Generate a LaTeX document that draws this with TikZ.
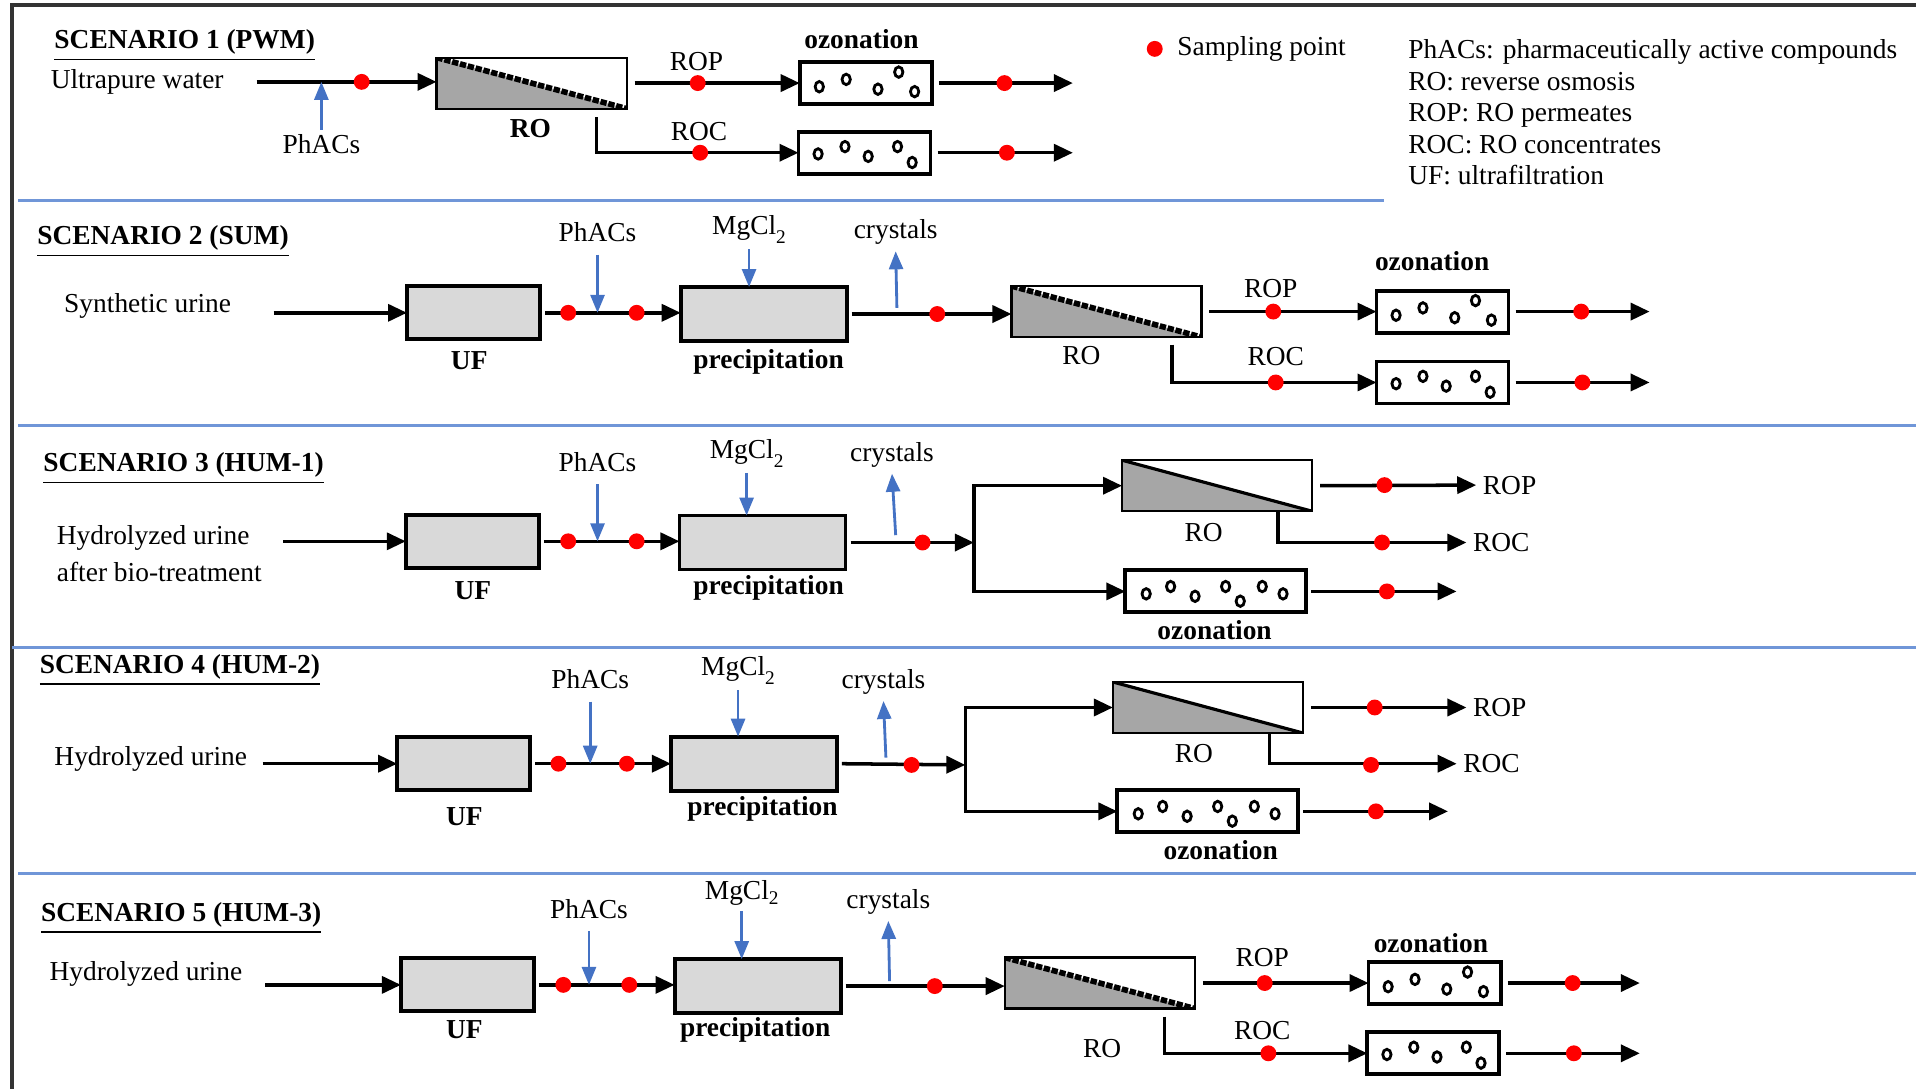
\documentclass[tikz,border=0pt]{standalone}
\usepackage{fontspec}
\setmainfont{Liberation Serif}
\usetikzlibrary{arrows.meta}

\definecolor{doseblue}{RGB}{68,114,196}
\definecolor{sepblue}{RGB}{112,150,216}
\definecolor{unitgray}{RGB}{217,217,217}
\definecolor{membgray}{RGB}{166,166,166}

\newcommand\figfont{\fontsize{7.8pt}{9pt}\selectfont}
\newcommand\mgcl{MgCl\raisebox{-0.7ex}{\fontsize{5.5pt}{6pt}\selectfont 2}}
\newcommand\mgclb{MgCl\raisebox{-0.35ex}{\fontsize{5.5pt}{6pt}\selectfont 2}}
\newcommand\ozbubbles[1]{\foreach \dx/\dy in {-38/3,-16/-3,10/5,27/-9,40/7}
  {\draw[bub] ([shift={(\dx,\dy)}]#1.center) ellipse [x radius=3.4, y radius=4.3];}}
\newcommand\ozbubblesb[1]{\foreach \dx/\dy in {-38/1,-16/-5,3/3,27/-5,39/8}
  {\draw[bub] ([shift={(\dx,\dy)}]#1.center) ellipse [x radius=3.4, y radius=4.3];}}
\newcommand\ozbubblesw[1]{\foreach \dx/\dy in {-57/2,-37/-4,-17/4,8/-4,20/8,38/-4,55/2}
  {\draw[bub] ([shift={(\dx,\dy)}]#1.center) ellipse [x radius=3.4, y radius=4.3];}}

\begin{document}
\begin{tikzpicture}[
      x=0.1222mm, y=-0.1222mm,
      txt/.style={inner sep=0, font=\figfont},
      bf/.style={txt, font=\figfont\bfseries},
      ttl/.style={bf, anchor=base west},
      unit/.style={draw, line width=1.1pt, fill=unitgray, minimum height=5.3mm, inner sep=0, outer sep=0},
      uf/.style={unit, minimum width=13.3mm},
      prec/.style={unit, minimum width=16.6mm, minimum height=5.4mm},
      ozbox/.style={draw, line width=1.1pt, fill=white, minimum width=13.2mm, minimum height=4.2mm, inner sep=0, outer sep=0},
      ozwide/.style={ozbox, minimum width=18.1mm},
      memb/.style={line width=1.6pt, dash pattern=on 1.8pt off 0.5pt},
      membs/.style={line width=0.9pt},
      robox/.style={draw, line width=0.6pt, minimum width=19mm, minimum height=5.1mm, inner sep=0, outer sep=0,
        path picture={
          \fill[membgray] (path picture bounding box.north west) -- (path picture bounding box.south east)
            -- (path picture bounding box.south west) -- cycle;
          \draw[#1] (path picture bounding box.north west) -- (path picture bounding box.south east);}},
      robox/.default=memb,
      flow/.style={line width=1pt, -{Triangle[length=1.9mm, width=1.7mm]}},
      dose/.style={doseblue, line width=0.8pt, -{Triangle[length=1.8mm, width=1.4mm]}},
      sample/.style={fill=red},
      bub/.style={line width=0.8pt},
      sep/.style={sepblue, line width=0.9pt},
    ]
    \useasboundingbox (0,0) rectangle (1568,891);
    \draw[line width=1pt, black!80] (10,891) -- (10,4) -- (1568,4);
    \draw[sep] (15,164) -- (1133,164);
    \draw[sep] (15,348) -- (1568,348);
    \draw[sep] (10,530) -- (1568,530);
    \draw[sep] (15,715) -- (1568,715);

    % scenario 1
    \node[ttl] (t1) at (44,40) {\underline{SCENARIO 1 (PWM)}};
    \node[txt, anchor=west] (w1) at (41,67) {Ultrapure water};
    \coordinate (in1) at (210,67);
    \node[robox] (ro1) at (435,68) {};
    \node[bf] (rl1) at (434,105) {RO};
    \node[txt] (ph1) at (263,118) {PhACs};
    \node[ozbox] (oz1a) at (708.5,68) {};
    \ozbubbles{oz1a}
    \node[ozbox] (oz1b) at (707.5,125) {};
    \ozbubblesb{oz1b}
    \node[bf] (ol1) at (705,32) {ozonation};
    \node[txt] (rp1) at (570,50) {ROP};
    \node[txt] (rc1) at (572,108) {ROC};
    \coordinate (c1) at (488,96);
    \coordinate (e1a) at (878,68);
    \coordinate (e1b) at (878,125);
    \draw[flow] (in1) -- (in1 -| ro1.west);
    \draw[dose] ([yshift=0.4mm]ph1.north) -- (ph1.north |- in1);
    \draw[flow] ([xshift=0.8mm]ro1.east) -- (oz1a.west);
    \draw[flow] (c1) |- (oz1b.west);
    \draw[flow] ([xshift=0.7mm]oz1a.east) -- (e1a);
    \draw[flow] ([xshift=0.7mm]oz1b.east) -- (e1b);
    \foreach \p in {(296,67),(571,68),(822,68),(573,125),(824,125)}
      \fill[sample] \p circle [radius=6.5];

    % legend
    \fill[sample] (945,40) circle [radius=6.5];
    \node[txt, anchor=west] (key) at (963,40) {Sampling point};
    \node[txt, anchor=west, align=left] (abbr) at (1152,92) {PhACs: pharmaceutically active compounds\\
      RO: reverse osmosis\\ROP: RO permeates\\ROC: RO concentrates\\UF: ultrafiltration};

    % scenario 2
    \node[ttl] (t2) at (30,200.5) {\underline{SCENARIO 2 (SUM)}};
    \node[txt, anchor=west] (w2) at (52,250) {Synthetic urine};
    \coordinate (in2) at (224,256);
    \node[uf] (uf2) at (387.5,256) {};
    \node[bf] (ul2) at (384,295) {UF};
    \node[prec] (pr2) at (625,257) {};
    \node[bf] (pl2) at (629,296) {precipitation};
    \node[robox] (ro2) at (905.5,255) {};
    \node[txt] (rl2) at (885,291) {RO};
    \node[ozbox] (oz2a) at (1180.5,255) {};
    \ozbubbles{oz2a}
    \node[ozbox] (oz2b) at (1180.5,313) {};
    \ozbubblesb{oz2b}
    \node[bf] (ol2) at (1172,214) {ozonation};
    \node[txt] (ph2) at (489,190) {PhACs};
    \node[txt] (mg2) at (613,188) {\mgcl};
    \node[txt] (cr2) at (733,190) {crystals};
    \node[txt] (rp2) at (1040,236) {ROP};
    \node[txt] (rc2) at (1044,292) {ROC};
    \coordinate (k2) at (734,252);
    \coordinate (c2) at (959,282);
    \coordinate (e2a) at (1350,255);
    \coordinate (e2b) at (1350,313);
    \draw[flow] (in2) -- (uf2.west);
    \draw[flow] ([xshift=0.5mm]uf2.east) -- (uf2.east -| pr2.west);
    \draw[flow] ([xshift=0.5mm]pr2.east) -- (pr2.east -| ro2.west);
    \draw[flow] ([xshift=0.8mm]ro2.east) -- (oz2a.west);
    \draw[flow] (c2) |- (oz2b.west);
    \draw[flow] ([xshift=0.7mm]oz2a.east) -- (e2a);
    \draw[flow] ([xshift=0.7mm]oz2b.east) -- (e2b);
    \draw[dose] ([yshift=-1.2mm]ph2.south) -- (ph2.south |- uf2.east);
    \draw[dose] ([yshift=-0.5mm]mg2.south) -- (mg2.south |- pr2.north);
    \draw[dose] (k2) -- ([yshift=-0.6mm]cr2.south);
    \foreach \p in {(465,256),(521,256),(767,257),(1042,255),(1044,313),(1294,255),(1295,313)}
      \fill[sample] \p circle [radius=6.5];

    % scenario 3
    \node[ttl] (t3) at (35,386) {\underline{SCENARIO 3 (HUM-1)}};
    \node[txt, anchor=west, align=left, font={\fontsize{7.8pt}{10.4pt}\selectfont}] (w3) at (46,453)
      {Hydrolyzed urine\\after bio-treatment};
    \coordinate (in3) at (232,443);
    \node[uf] (uf3) at (386.5,443) {};
    \node[bf] (ul3) at (387,483) {UF};
    \node[prec] (pr3) at (624,444) {};
    \node[bf] (pl3) at (629,481) {precipitation};
    \coordinate (j3) at (797,444);
    \node[robox=membs] (ro3) at (996,397.5) {};
    \node[txt] (rl3) at (985,436) {RO};
    \node[ozwide] (oz3) at (995,484) {};
    \ozbubblesw{oz3}
    \node[bf] (ol3) at (994,516) {ozonation};
    \node[txt] (ph3) at (489,378) {PhACs};
    \node[txt] (mg3) at (611,371) {\mgcl};
    \node[txt] (cr3) at (730,372) {crystals};
    \node[txt, anchor=west] (rp3) at (1213,397) {ROP};
    \node[txt, anchor=west] (rc3) at (1205,444) {ROC};
    \coordinate (k3) at (733,438);
    \coordinate (c3) at (1046,418);
    \coordinate (e3) at (1192,484);
    \draw[flow] (in3) -- (uf3.west);
    \draw[flow] ([xshift=0.5mm]uf3.east) -- (uf3.east -| pr3.west);
    \draw[flow] ([xshift=0.5mm]pr3.east) -- (j3);
    \draw[flow] (j3) |- (ro3.west);
    \draw[flow] (j3) |- (oz3.west);
    \draw[flow] ([xshift=0.8mm]ro3.east) -- ([xshift=-0.6mm]rp3.west);
    \draw[flow] (c3) |- ([xshift=-0.6mm]rc3.west);
    \draw[flow] ([xshift=0.5mm]oz3.east) -- (e3);
    \draw[dose] ([yshift=-1.2mm]ph3.south) -- (ph3.south |- uf3.east);
    \draw[dose] ([yshift=-0.5mm]mg3.south) -- (mg3.south |- pr3.north);
    \draw[dose] (k3) -- ([yshift=-0.6mm]cr3.south);
    \foreach \p in {(465,443),(521,443),(755,444),(1133,397),(1131,444),(1135,484)}
      \fill[sample] \p circle [radius=6.5];

    % scenario 4
    \node[ttl] (t4) at (32,551) {\underline{SCENARIO 4 (HUM-2)}};
    \node[txt, anchor=west] (w4) at (44,621) {Hydrolyzed urine};
    \coordinate (in4) at (215,625);
    \node[uf] (uf4) at (379.5,625) {};
    \node[bf] (ul4) at (380,668) {UF};
    \node[prec] (pr4) at (617,625) {};
    \node[bf] (pl4) at (624,662) {precipitation};
    \coordinate (j4) at (790,626);
    \node[robox=membs] (ro4) at (988.5,579) {};
    \node[txt] (rl4) at (977,617) {RO};
    \node[ozwide] (oz4) at (988.5,664) {};
    \ozbubblesw{oz4}
    \node[bf] (ol4) at (999,696) {ozonation};
    \node[txt] (ph4) at (483,556) {PhACs};
    \node[txt] (mg4) at (604,549) {\mgcl};
    \node[txt] (cr4) at (723,558) {crystals};
    \node[txt, anchor=west] (rp4) at (1205,579) {ROP};
    \node[txt, anchor=west] (rc4) at (1197,625) {ROC};
    \coordinate (k4) at (725,620);
    \coordinate (c4) at (1039,600);
    \coordinate (e4) at (1185,664);
    \draw[flow] (in4) -- (uf4.west);
    \draw[flow] ([xshift=0.5mm]uf4.east) -- (uf4.east -| pr4.west);
    \draw[flow] ([xshift=0.5mm]pr4.east) -- (j4);
    \draw[flow] (j4) |- (ro4.west);
    \draw[flow] (j4) |- (oz4.west);
    \draw[flow] ([xshift=0.8mm]ro4.east) -- ([xshift=-0.6mm]rp4.west);
    \draw[flow] (c4) |- ([xshift=-0.6mm]rc4.west);
    \draw[flow] ([xshift=0.5mm]oz4.east) -- (e4);
    \draw[dose] ([yshift=-1.2mm]ph4.south) -- (ph4.south |- uf4.east);
    \draw[dose] ([yshift=-0.5mm]mg4.south) -- (mg4.south |- pr4.north);
    \draw[dose] (k4) -- ([yshift=-0.6mm]cr4.south);
    \foreach \p in {(457,625),(513,625),(746,626),(1125,579),(1122,626),(1126,664)}
      \fill[sample] \p circle [radius=6.5];

    % scenario 5
    \node[ttl] (t5) at (33,754) {\underline{SCENARIO 5 (HUM-3)}};
    \node[txt, anchor=west] (w5) at (40,797) {Hydrolyzed urine};
    \coordinate (in5) at (217,806);
    \node[uf] (uf5) at (382.5,806) {};
    \node[bf] (ul5) at (380,843) {UF};
    \node[prec] (pr5) at (620,807) {};
    \node[bf] (pl5) at (618,843) {precipitation};
    \node[robox] (ro5) at (900,804.5) {};
    \node[txt] (rl5) at (902,858) {RO};
    \node[ozbox] (oz5a) at (1174,804.5) {};
    \ozbubbles{oz5a}
    \node[ozbox] (oz5b) at (1173,862) {};
    \ozbubblesb{oz5b}
    \node[bf] (ol5) at (1171,772) {ozonation};
    \node[txt] (ph5) at (482,744) {PhACs};
    \node[txt] (mg5) at (607,731) {\mgclb};
    \node[txt] (cr5) at (727,738) {crystals};
    \node[txt] (rp5) at (1033,784) {ROP};
    \node[txt] (rc5) at (1033,843) {ROC};
    \coordinate (k5) at (728,803);
    \coordinate (c5) at (953,832);
    \coordinate (e5a) at (1342,804.5);
    \coordinate (e5b) at (1342,862);
    \draw[flow] (in5) -- (uf5.west);
    \draw[flow] ([xshift=0.5mm]uf5.east) -- (uf5.east -| pr5.west);
    \draw[flow] ([xshift=0.5mm]pr5.east) -- (pr5.east -| ro5.west);
    \draw[flow] ([xshift=0.8mm]ro5.east) -- (oz5a.west);
    \draw[flow] (c5) |- (oz5b.west);
    \draw[flow] ([xshift=0.7mm]oz5a.east) -- (e5a);
    \draw[flow] ([xshift=0.7mm]oz5b.east) -- (e5b);
    \draw[dose] ([yshift=-1.2mm]ph5.south) -- (ph5.south |- uf5.east);
    \draw[dose] ([yshift=-0.5mm]mg5.south) -- (mg5.south |- pr5.north);
    \draw[dose] (k5) -- ([yshift=-0.6mm]cr5.south);
    \foreach \p in {(461,806),(515,806),(765,807),(1035,804.5),(1038,862),(1287,804.5),(1288,862)}
      \fill[sample] \p circle [radius=6.5];
  \end{tikzpicture}
\end{document}
